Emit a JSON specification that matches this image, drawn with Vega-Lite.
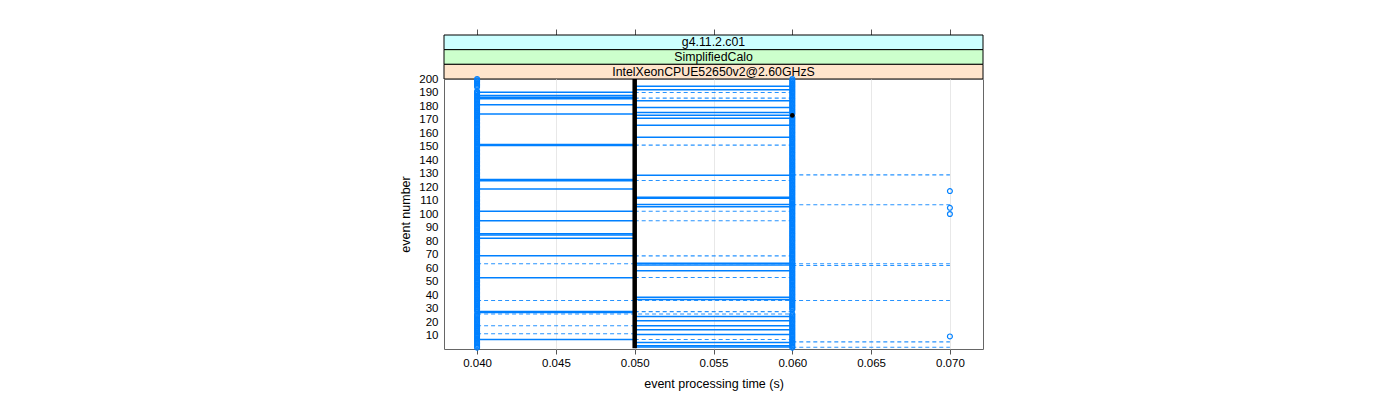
{
"$schema":"https://vega.github.io/schema/vega-lite/v6.json",
"background":"white",
"padding":{"left":399,"top":28,"right":5,"bottom":5},
"bounds":"flush",
"config":{"font":"Liberation Sans","view":{"stroke":null},"concat":{"spacing":0}},
"spacing":0,
"datasets":{
"strips":[{"level":"g4.11.2.c01"},{"level":"SimplifiedCalo"},{"level":"IntelXeonCPUE52650v2@2.60GHzS"}],
"segments":[
{"event":190.2,"from":0.04,"to":0.05,"line":"solid"},{"event":187.7,"from":0.04,"to":0.05,"line":"solid"},{"event":186.5,"from":0.04,"to":0.05,"line":"solid"},{"event":185.3,"from":0.04,"to":0.05,"line":"solid"},{"event":180.9,"from":0.04,"to":0.05,"line":"solid"},{"event":174,"from":0.04,"to":0.05,"line":"solid"},{"event":151.5,"from":0.04,"to":0.05,"line":"solid"},{"event":150.7,"from":0.04,"to":0.05,"line":"solid"},{"event":125.5,"from":0.04,"to":0.05,"line":"solid"},{"event":124.7,"from":0.04,"to":0.05,"line":"solid"},{"event":118.6,"from":0.04,"to":0.05,"line":"solid"},{"event":102,"from":0.04,"to":0.05,"line":"solid"},{"event":95,"from":0.04,"to":0.05,"line":"solid"},{"event":85.3,"from":0.04,"to":0.05,"line":"solid"},{"event":84.5,"from":0.04,"to":0.05,"line":"solid"},{"event":82,"from":0.04,"to":0.05,"line":"solid"},{"event":69,"from":0.04,"to":0.05,"line":"solid"},{"event":52.7,"from":0.04,"to":0.05,"line":"solid"},{"event":27.8,"from":0.04,"to":0.05,"line":"solid"},{"event":27,"from":0.04,"to":0.05,"line":"solid"},{"event":7,"from":0.04,"to":0.05,"line":"solid"},
{"event":63.1,"from":0.04,"to":0.07,"line":"dashed"},{"event":35.9,"from":0.04,"to":0.07,"line":"dashed"},{"event":25.9,"from":0.04,"to":0.06,"line":"dashed"},{"event":17.2,"from":0.04,"to":0.05,"line":"dashed"},{"event":11.3,"from":0.04,"to":0.05,"line":"dashed"},
{"event":194.7,"from":0.05,"to":0.06,"line":"solid"},{"event":192,"from":0.05,"to":0.06,"line":"solid"},{"event":183.8,"from":0.05,"to":0.06,"line":"solid"},{"event":178.9,"from":0.05,"to":0.06,"line":"solid"},{"event":175.2,"from":0.05,"to":0.06,"line":"solid"},{"event":173.2,"from":0.05,"to":0.06,"line":"solid"},{"event":171,"from":0.05,"to":0.06,"line":"solid"},{"event":165.8,"from":0.05,"to":0.06,"line":"solid"},{"event":156.9,"from":0.05,"to":0.06,"line":"solid"},{"event":128.7,"from":0.05,"to":0.06,"line":"solid"},{"event":112.5,"from":0.05,"to":0.06,"line":"solid"},{"event":111.7,"from":0.05,"to":0.06,"line":"solid"},{"event":107,"from":0.05,"to":0.06,"line":"solid"},{"event":105.3,"from":0.05,"to":0.06,"line":"solid"},{"event":63.5,"from":0.05,"to":0.06,"line":"solid"},{"event":62.3,"from":0.05,"to":0.06,"line":"solid"},{"event":57.9,"from":0.05,"to":0.06,"line":"solid"},{"event":38.4,"from":0.05,"to":0.06,"line":"solid"},{"event":36.6,"from":0.05,"to":0.06,"line":"solid"},{"event":24,"from":0.05,"to":0.06,"line":"solid"},{"event":21,"from":0.05,"to":0.06,"line":"solid"},{"event":17.2,"from":0.05,"to":0.06,"line":"solid"},{"event":14.2,"from":0.05,"to":0.06,"line":"solid"},{"event":10.7,"from":0.05,"to":0.06,"line":"solid"},{"event":4.8,"from":0.05,"to":0.06,"line":"solid"},{"event":2.4,"from":0.05,"to":0.06,"line":"solid"},{"event":1.4,"from":0.05,"to":0.06,"line":"solid"},
{"event":190,"from":0.05,"to":0.06,"line":"dashed"},{"event":185.8,"from":0.05,"to":0.06,"line":"dashed"},{"event":151,"from":0.05,"to":0.06,"line":"dashed"},{"event":124.8,"from":0.05,"to":0.06,"line":"dashed"},{"event":102,"from":0.05,"to":0.06,"line":"dashed"},{"event":95,"from":0.05,"to":0.06,"line":"dashed"},{"event":69,"from":0.05,"to":0.06,"line":"dashed"},{"event":53,"from":0.05,"to":0.06,"line":"dashed"},{"event":27.7,"from":0.05,"to":0.06,"line":"dashed"},{"event":7,"from":0.05,"to":0.06,"line":"dashed"},
{"event":129,"from":0.06,"to":0.07,"line":"dashed"},{"event":106.8,"from":0.06,"to":0.07,"line":"dashed"},{"event":61.8,"from":0.06,"to":0.07,"line":"dashed"},{"event":5.3,"from":0.06,"to":0.07,"line":"dashed"},{"event":1.3,"from":0.06,"to":0.07,"line":"dashed"}
],
"reference":[{"time":0.05,"from":0.5,"to":200}],
"referencePoints":[{"event":173,"time":0.06}],
"points":[
{"event":1,"time":0.04},{"event":2,"time":0.04},{"event":3,"time":0.04},{"event":4,"time":0.04},{"event":5,"time":0.04},{"event":6,"time":0.04},{"event":7,"time":0.04},{"event":8,"time":0.04},{"event":9,"time":0.04},{"event":10,"time":0.04},{"event":11,"time":0.04},{"event":12,"time":0.04},{"event":13,"time":0.04},{"event":14,"time":0.04},{"event":15,"time":0.04},{"event":16,"time":0.04},{"event":17,"time":0.04},{"event":18,"time":0.04},{"event":19,"time":0.04},{"event":20,"time":0.04},{"event":21,"time":0.04},{"event":22,"time":0.04},{"event":23,"time":0.04},{"event":24,"time":0.04},{"event":25,"time":0.04},{"event":26,"time":0.04},{"event":28,"time":0.04},{"event":29,"time":0.04},{"event":30,"time":0.04},{"event":31,"time":0.04},{"event":32,"time":0.04},{"event":33,"time":0.04},{"event":34,"time":0.04},{"event":35,"time":0.04},{"event":36,"time":0.04},{"event":37,"time":0.04},{"event":38,"time":0.04},{"event":39,"time":0.04},{"event":40,"time":0.04},{"event":41,"time":0.04},{"event":42,"time":0.04},{"event":43,"time":0.04},{"event":44,"time":0.04},{"event":45,"time":0.04},{"event":46,"time":0.04},{"event":47,"time":0.04},{"event":48,"time":0.04},{"event":49,"time":0.04},{"event":50,"time":0.04},{"event":51,"time":0.04},{"event":52,"time":0.04},{"event":53,"time":0.04},{"event":54,"time":0.04},{"event":55,"time":0.04},{"event":56,"time":0.04},{"event":57,"time":0.04},{"event":58,"time":0.04},{"event":59,"time":0.04},{"event":60,"time":0.04},{"event":61,"time":0.04},{"event":62,"time":0.04},{"event":63,"time":0.04},{"event":64,"time":0.04},{"event":65,"time":0.04},{"event":66,"time":0.04},{"event":67,"time":0.04},{"event":68,"time":0.04},{"event":69,"time":0.04},{"event":70,"time":0.04},{"event":71,"time":0.04},{"event":72,"time":0.04},{"event":73,"time":0.04},{"event":74,"time":0.04},{"event":75,"time":0.04},{"event":76,"time":0.04},{"event":77,"time":0.04},{"event":78,"time":0.04},{"event":79,"time":0.04},{"event":80,"time":0.04},{"event":81,"time":0.04},{"event":82,"time":0.04},{"event":83,"time":0.04},{"event":84,"time":0.04},{"event":85,"time":0.04},{"event":86,"time":0.04},{"event":87,"time":0.04},{"event":88,"time":0.04},{"event":89,"time":0.04},{"event":90,"time":0.04},{"event":91,"time":0.04},{"event":92,"time":0.04},{"event":93,"time":0.04},{"event":94,"time":0.04},{"event":95,"time":0.04},{"event":96,"time":0.04},{"event":97,"time":0.04},{"event":98,"time":0.04},{"event":99,"time":0.04},{"event":100,"time":0.04},{"event":101,"time":0.04},{"event":102,"time":0.04},{"event":103,"time":0.04},{"event":104,"time":0.04},{"event":105,"time":0.04},{"event":106,"time":0.04},{"event":107,"time":0.04},{"event":108,"time":0.04},{"event":109,"time":0.04},{"event":110,"time":0.04},{"event":111,"time":0.04},{"event":112,"time":0.04},{"event":113,"time":0.04},{"event":114,"time":0.04},{"event":115,"time":0.04},{"event":116,"time":0.04},{"event":117,"time":0.04},{"event":118,"time":0.04},{"event":119,"time":0.04},{"event":120,"time":0.04},{"event":121,"time":0.04},{"event":122,"time":0.04},{"event":123,"time":0.04},{"event":124,"time":0.04},{"event":125,"time":0.04},{"event":126,"time":0.04},{"event":127,"time":0.04},{"event":128,"time":0.04},{"event":129,"time":0.04},{"event":130,"time":0.04},{"event":131,"time":0.04},{"event":132,"time":0.04},{"event":133,"time":0.04},{"event":134,"time":0.04},{"event":135,"time":0.04},{"event":136,"time":0.04},{"event":137,"time":0.04},{"event":138,"time":0.04},{"event":139,"time":0.04},{"event":140,"time":0.04},{"event":141,"time":0.04},{"event":142,"time":0.04},{"event":143,"time":0.04},{"event":144,"time":0.04},{"event":145,"time":0.04},{"event":146,"time":0.04},{"event":147,"time":0.04},{"event":148,"time":0.04},{"event":149,"time":0.04},{"event":150,"time":0.04},{"event":151,"time":0.04},{"event":152,"time":0.04},{"event":153,"time":0.04},{"event":154,"time":0.04},{"event":155,"time":0.04},{"event":156,"time":0.04},{"event":157,"time":0.04},{"event":158,"time":0.04},{"event":159,"time":0.04},{"event":160,"time":0.04},{"event":161,"time":0.04},{"event":162,"time":0.04},{"event":163,"time":0.04},{"event":164,"time":0.04},{"event":165,"time":0.04},{"event":166,"time":0.04},{"event":167,"time":0.04},{"event":168,"time":0.04},{"event":169,"time":0.04},{"event":170,"time":0.04},{"event":171,"time":0.04},{"event":172,"time":0.04},{"event":173,"time":0.04},{"event":174,"time":0.04},{"event":175,"time":0.04},{"event":176,"time":0.04},{"event":177,"time":0.04},{"event":178,"time":0.04},{"event":179,"time":0.04},{"event":180,"time":0.04},{"event":181,"time":0.04},{"event":182,"time":0.04},{"event":183,"time":0.04},{"event":184,"time":0.04},{"event":185,"time":0.04},{"event":186,"time":0.04},{"event":187,"time":0.04},{"event":188,"time":0.04},{"event":189,"time":0.04},{"event":190,"time":0.04},{"event":191,"time":0.04},{"event":194,"time":0.04},{"event":195,"time":0.04},{"event":196,"time":0.04},{"event":197,"time":0.04},{"event":198,"time":0.04},{"event":199,"time":0.04},{"event":200,"time":0.04},
{"event":1,"time":0.06},{"event":2,"time":0.06},{"event":3,"time":0.06},{"event":4,"time":0.06},{"event":5,"time":0.06},{"event":6,"time":0.06},{"event":7,"time":0.06},{"event":8,"time":0.06},{"event":9,"time":0.06},{"event":10,"time":0.06},{"event":11,"time":0.06},{"event":12,"time":0.06},{"event":13,"time":0.06},{"event":14,"time":0.06},{"event":15,"time":0.06},{"event":16,"time":0.06},{"event":17,"time":0.06},{"event":18,"time":0.06},{"event":19,"time":0.06},{"event":20,"time":0.06},{"event":21,"time":0.06},{"event":22,"time":0.06},{"event":23,"time":0.06},{"event":24,"time":0.06},{"event":25,"time":0.06},{"event":26,"time":0.06},{"event":29,"time":0.06},{"event":30,"time":0.06},{"event":31,"time":0.06},{"event":32,"time":0.06},{"event":33,"time":0.06},{"event":34,"time":0.06},{"event":35,"time":0.06},{"event":36,"time":0.06},{"event":37,"time":0.06},{"event":38,"time":0.06},{"event":39,"time":0.06},{"event":40,"time":0.06},{"event":41,"time":0.06},{"event":42,"time":0.06},{"event":43,"time":0.06},{"event":44,"time":0.06},{"event":45,"time":0.06},{"event":46,"time":0.06},{"event":47,"time":0.06},{"event":48,"time":0.06},{"event":49,"time":0.06},{"event":50,"time":0.06},{"event":51,"time":0.06},{"event":52,"time":0.06},{"event":53,"time":0.06},{"event":54,"time":0.06},{"event":55,"time":0.06},{"event":56,"time":0.06},{"event":57,"time":0.06},{"event":58,"time":0.06},{"event":59,"time":0.06},{"event":60,"time":0.06},{"event":61,"time":0.06},{"event":62,"time":0.06},{"event":63,"time":0.06},{"event":64,"time":0.06},{"event":65,"time":0.06},{"event":66,"time":0.06},{"event":67,"time":0.06},{"event":68,"time":0.06},{"event":69,"time":0.06},{"event":70,"time":0.06},{"event":71,"time":0.06},{"event":72,"time":0.06},{"event":73,"time":0.06},{"event":74,"time":0.06},{"event":75,"time":0.06},{"event":76,"time":0.06},{"event":77,"time":0.06},{"event":78,"time":0.06},{"event":79,"time":0.06},{"event":80,"time":0.06},{"event":81,"time":0.06},{"event":82,"time":0.06},{"event":83,"time":0.06},{"event":84,"time":0.06},{"event":85,"time":0.06},{"event":86,"time":0.06},{"event":87,"time":0.06},{"event":88,"time":0.06},{"event":89,"time":0.06},{"event":90,"time":0.06},{"event":91,"time":0.06},{"event":92,"time":0.06},{"event":93,"time":0.06},{"event":94,"time":0.06},{"event":95,"time":0.06},{"event":96,"time":0.06},{"event":97,"time":0.06},{"event":98,"time":0.06},{"event":99,"time":0.06},{"event":100,"time":0.06},{"event":101,"time":0.06},{"event":102,"time":0.06},{"event":103,"time":0.06},{"event":104,"time":0.06},{"event":105,"time":0.06},{"event":106,"time":0.06},{"event":107,"time":0.06},{"event":108,"time":0.06},{"event":109,"time":0.06},{"event":110,"time":0.06},{"event":111,"time":0.06},{"event":112,"time":0.06},{"event":113,"time":0.06},{"event":114,"time":0.06},{"event":115,"time":0.06},{"event":116,"time":0.06},{"event":117,"time":0.06},{"event":118,"time":0.06},{"event":119,"time":0.06},{"event":120,"time":0.06},{"event":121,"time":0.06},{"event":122,"time":0.06},{"event":123,"time":0.06},{"event":124,"time":0.06},{"event":125,"time":0.06},{"event":126,"time":0.06},{"event":127,"time":0.06},{"event":128,"time":0.06},{"event":129,"time":0.06},{"event":130,"time":0.06},{"event":131,"time":0.06},{"event":132,"time":0.06},{"event":133,"time":0.06},{"event":134,"time":0.06},{"event":135,"time":0.06},{"event":136,"time":0.06},{"event":137,"time":0.06},{"event":138,"time":0.06},{"event":139,"time":0.06},{"event":140,"time":0.06},{"event":141,"time":0.06},{"event":142,"time":0.06},{"event":143,"time":0.06},{"event":144,"time":0.06},{"event":145,"time":0.06},{"event":146,"time":0.06},{"event":147,"time":0.06},{"event":148,"time":0.06},{"event":149,"time":0.06},{"event":150,"time":0.06},{"event":151,"time":0.06},{"event":152,"time":0.06},{"event":153,"time":0.06},{"event":154,"time":0.06},{"event":155,"time":0.06},{"event":156,"time":0.06},{"event":157,"time":0.06},{"event":158,"time":0.06},{"event":159,"time":0.06},{"event":160,"time":0.06},{"event":161,"time":0.06},{"event":162,"time":0.06},{"event":163,"time":0.06},{"event":164,"time":0.06},{"event":165,"time":0.06},{"event":166,"time":0.06},{"event":167,"time":0.06},{"event":168,"time":0.06},{"event":169,"time":0.06},{"event":170,"time":0.06},{"event":171,"time":0.06},{"event":172,"time":0.06},{"event":174,"time":0.06},{"event":175,"time":0.06},{"event":176,"time":0.06},{"event":177,"time":0.06},{"event":178,"time":0.06},{"event":179,"time":0.06},{"event":180,"time":0.06},{"event":181,"time":0.06},{"event":182,"time":0.06},{"event":183,"time":0.06},{"event":184,"time":0.06},{"event":185,"time":0.06},{"event":186,"time":0.06},{"event":187,"time":0.06},{"event":188,"time":0.06},{"event":189,"time":0.06},{"event":190,"time":0.06},{"event":191,"time":0.06},{"event":192,"time":0.06},{"event":193,"time":0.06},{"event":194,"time":0.06},{"event":195,"time":0.06},{"event":196,"time":0.06},{"event":197,"time":0.06},{"event":198,"time":0.06},{"event":199,"time":0.06},{"event":200,"time":0.06},
{"event":117,"time":0.07},{"event":104.6,"time":0.07},{"event":100,"time":0.07},{"event":9.3,"time":0.07}
]
},
"vconcat":[
{
"width":539,"height":44,
"data":{"name":"strips"},
"encoding":{"y":{"field":"level","type":"nominal","sort":["g4.11.2.c01","SimplifiedCalo","IntelXeonCPUE52650v2@2.60GHzS"],"axis":null,"scale":{"paddingInner":0,"paddingOuter":0}}},
"layer":[
{"mark":{"type":"rect","stroke":"black","strokeWidth":1},
"encoding":{
"x":{"datum":0.0379,"type":"quantitative","scale":{"domain":[0.0379,0.0721],"nice":false,"zero":false},"axis":{"orient":"top","values":[0.04,0.045,0.05,0.055,0.06,0.065,0.07],"labels":false,"domain":false,"grid":false,"ticks":true,"tickSize":6,"tickColor":"#555","title":null}},
"x2":{"datum":0.0721},
"fill":{"field":"level","type":"nominal","scale":{"domain":["g4.11.2.c01","SimplifiedCalo","IntelXeonCPUE52650v2@2.60GHzS"],"range":["#ccffff","#ccffcc","#ffe5cc"]},"legend":null}}},
{"mark":{"type":"text","fontSize":12.3,"color":"black","baseline":"middle"},"encoding":{"text":{"field":"level","type":"nominal"}}}
]
},
{
"width":539,"height":270,
"view":{"stroke":"#666","strokeWidth":1},
"encoding":{
"x":{"type":"quantitative","scale":{"domain":[0.0379,0.0721],"nice":false,"zero":false},"axis":{"values":[0.04,0.045,0.05,0.055,0.06,0.065,0.07],"format":".3f","title":"event processing time (s)","grid":true,"gridColor":"#e8e8e8","tickSize":5,"tickColor":"#555","domain":false,"labelFontSize":11.5,"labelColor":"black","labelPadding":3,"titleFontSize":12.5,"titleFontWeight":"normal","titleColor":"black","titlePadding":9}},
"y":{"type":"quantitative","scale":{"domain":[0,200],"nice":false,"zero":false},"axis":{"values":[10,20,30,40,50,60,70,80,90,100,110,120,130,140,150,160,170,180,190,200],"title":"event number","ticks":false,"domain":false,"grid":false,"labelFontSize":11.5,"labelColor":"black","labelPadding":6,"titleFontSize":12.5,"titleFontWeight":"normal","titleColor":"black","titlePadding":6}}
},
"layer":[
{"data":{"name":"segments"},"transform":[{"filter":"datum.line == 'dashed'"}],
"mark":{"type":"rule","color":"#0080ff","strokeWidth":1.1,"strokeDash":[4,3],"opacity":0.85},
"encoding":{"x":{"field":"from"},"x2":{"field":"to"},"y":{"field":"event"}}},
{"data":{"name":"segments"},"transform":[{"filter":"datum.line == 'solid'"}],
"mark":{"type":"rule","color":"#0080ff","strokeWidth":1.5},
"encoding":{"x":{"field":"from"},"x2":{"field":"to"},"y":{"field":"event"}}},
{"data":{"name":"points"},
"mark":{"type":"point","shape":"circle","filled":false,"color":"#0080ff","size":24,"strokeWidth":1.2,"opacity":1},
"encoding":{"x":{"field":"time"},"y":{"field":"event"}}},
{"data":{"name":"reference"},
"mark":{"type":"rule","color":"black","strokeWidth":4.5},
"encoding":{"x":{"field":"time"},"y":{"field":"from"},"y2":{"field":"to"}}},
{"data":{"name":"referencePoints"},
"mark":{"type":"point","shape":"circle","filled":true,"color":"black","size":22,"opacity":1},
"encoding":{"x":{"field":"time"},"y":{"field":"event"}}}
]
}
]
}
